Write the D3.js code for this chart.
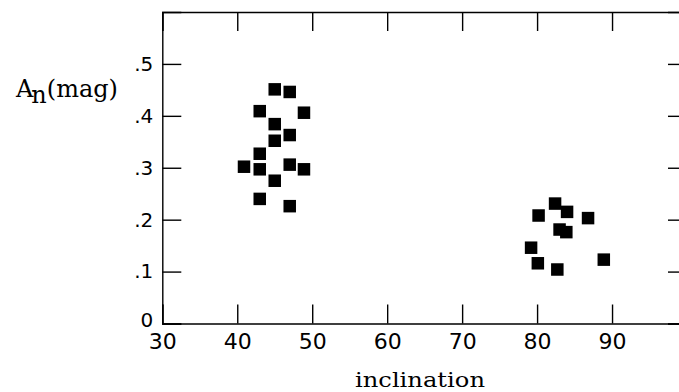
<!DOCTYPE html>
<html>
<head>
<meta charset="utf-8">
<script src="https://cdn.jsdelivr.net/npm/d3@7"></script>
<style>
  body { margin: 0; background: #fff; overflow: hidden; }
  svg { display: block; }
</style>
</head>
<body>
<div id="chart-container"></div>
<script>
// data: inclinatie en A_n (mag)
const inclination = [45, 47, 43, 48.9, 45, 47, 45, 43, 40.9, 43, 47, 48.9, 45, 43, 47,
    82.4, 84, 80.2, 86.8, 83, 83.9, 79.2, 80.1, 82.7, 88.9]
const extinction = [0.451, 0.446, 0.409, 0.406, 0.384, 0.363, 0.352, 0.327, 0.302, 0.297, 0.306, 0.297, 0.275, 0.240, 0.226,
    0.231, 0.215, 0.208, 0.203, 0.181, 0.176, 0.146, 0.116, 0.104, 0.123]

// ticks
const xTicks = [30, 40, 50, 60, 70, 80, 90]
const yTicks = [0, 0.1, 0.2, 0.3, 0.4, 0.5]

// settings
const chartContainer = d3.select('#chart-container')
const width = 679
const height = 392
const margin = { top: 12, right: -8, bottom: 68.5, left: 162.3 }
const innerWidth = width - margin.left - margin.right
const innerHeight = height - margin.top - margin.bottom
const tickLen = 19
const markerSize = 12.5

const xScale = d3.scaleLinear().domain([30, 100]).range([0, innerWidth])
const yScale = d3.scaleLinear().domain([0, 0.6]).range([innerHeight, 0])

const data = inclination.map((d, i) => ({ x: d, y: extinction[i] }))

const svg = chartContainer.append('svg')
    .attr('width', width)
    .attr('height', height)

// alles rechts van het beeld wegknippen (rechter as valt net buiten beeld)
svg.append('defs').append('clipPath')
    .attr('id', 'frame-clip')
    .append('rect')
    .attr('x', -margin.left)
    .attr('y', -margin.top)
    .attr('width', width)
    .attr('height', height)

const g = svg.append('g')
    .attr('transform', `translate(${margin.left}, ${margin.top})`)

const frame = g.append('g')
    .attr('clip-path', 'url(#frame-clip)')

// y labels zonder voorloop-nul
const yFormat = d => d === 0 ? '0' : d3.format('.1f')(d).replace('0.', '.')

// onderkant
frame.append('g')
    .attr('class', 'axis-x')
    .attr('transform', `translate(0, ${innerHeight})`)
    .call(d3.axisBottom(xScale).tickValues(xTicks).tickSize(-tickLen).tickPadding(10).tickFormat(d3.format('d')))

// bovenkant
frame.append('g')
    .attr('class', 'axis-top')
    .call(d3.axisTop(xScale).tickValues(xTicks).tickSize(-tickLen))

// links
frame.append('g')
    .attr('class', 'axis-y')
    .call(d3.axisLeft(yScale).tickValues(yTicks).tickSize(-tickLen).tickPadding(9).tickFormat(yFormat))

// rechts
frame.append('g')
    .attr('class', 'axis-right')
    .attr('transform', `translate(${innerWidth}, 0)`)
    .call(d3.axisRight(yScale).tickValues(yTicks).tickSize(-tickLen))

// geen labels boven en rechts
g.selectAll('.axis-top text, .axis-right text').remove()

g.selectAll('.domain, .tick line')
    .attr('stroke', '#000')
    .attr('stroke-width', 1.4)

g.selectAll('.axis-x text')
    .attr('font-family', 'DejaVu Sans')
    .attr('font-size', 22)
    .attr('fill', '#000')

g.selectAll('.axis-y text')
    .attr('font-family', 'DejaVu Sans')
    .attr('font-size', 20)
    .attr('fill', '#000')

// de 0 staat iets hoger
g.selectAll('.axis-y .tick text')
    .filter(d => d === 0)
    .attr('y', -3)

// markers
g.selectAll('rect.pt')
    .data(data)
    .enter()
    .append('rect')
    .attr('class', 'pt')
    .attr('x', d => xScale(d.x) - markerSize / 2)
    .attr('y', d => yScale(d.y) - markerSize / 2)
    .attr('width', markerSize)
    .attr('height', markerSize)
    .attr('fill', '#000')

// as titels
svg.append('text')
    .attr('x', 355)
    .attr('y', 387)
    .attr('font-family', 'DejaVu Serif')
    .attr('font-size', 20)
    .attr('textLength', 130)
    .attr('lengthAdjust', 'spacingAndGlyphs')
    .text('inclination')

const yTitle = svg.append('text')
    .attr('x', 16)
    .attr('y', 97)
    .attr('font-family', 'DejaVu Serif')
    .attr('font-size', 24)
yTitle.append('tspan').text('A')
yTitle.append('tspan').attr('dx', -2).attr('dy', 6).text('n')
yTitle.append('tspan').attr('dy', -6).text('(mag)')
</script>
</body>
</html>
